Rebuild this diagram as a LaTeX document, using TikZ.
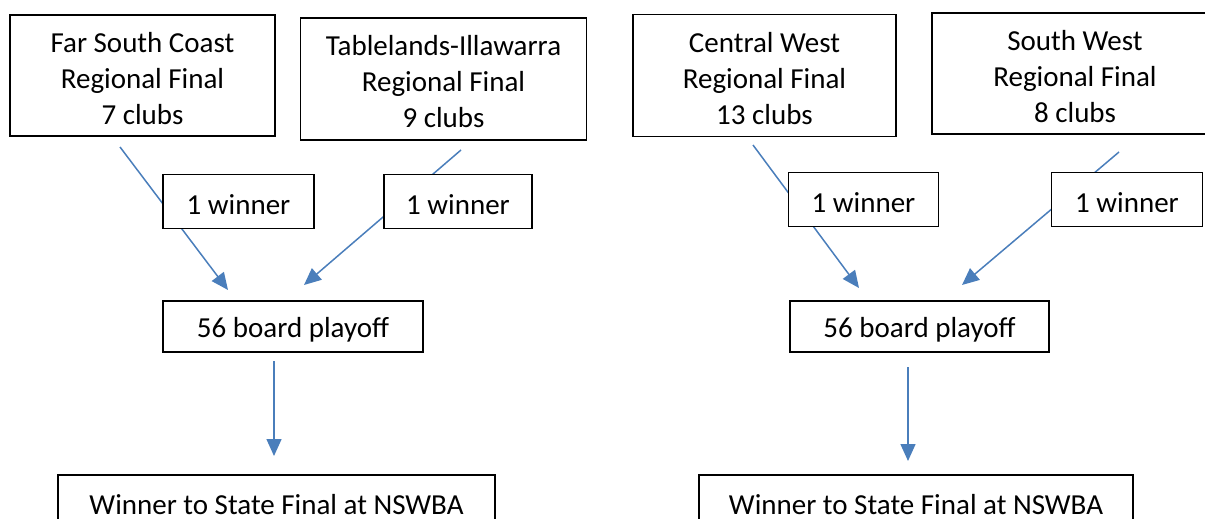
\documentclass[tikz,border=0pt]{standalone}
\usepackage{fontspec}
\setmainfont{Carlito}
\usetikzlibrary{arrows.meta}
\definecolor{arrowblue}{RGB}{74,126,187}
\begin{document}
\begin{tikzpicture}[x=1pt,y=-1pt,
  box/.style={draw=black,line width=1.2pt,fill=white,inner sep=0pt},
  boxtext/.style={inner sep=0pt,align=center,yshift=-3pt,
    font=\fontsize{29}{36}\selectfont},
  conn/.style={draw=arrowblue,line width=1.5pt,-{Triangle[length=17pt,width=15pt]}}]
\useasboundingbox (0,0) rectangle (1205,519);
\clip (0,0) rectangle (1205,519);
% connector end points
\coordinate (s1) at (120,147);  \coordinate (t1) at (228,290);
\coordinate (s2) at (461,150);  \coordinate (t2) at (304,285);
\coordinate (s3) at (753,145);  \coordinate (t3) at (859,288);
\coordinate (s4) at (1119,152); \coordinate (t4) at (962,285);
\coordinate (s5) at (274,361);  \coordinate (t5) at (274,456);
\coordinate (s6) at (908,367);  \coordinate (t6) at (908,461);
\draw[conn] (s1) -- (t1);
\draw[conn] (s2) -- (t2);
\draw[conn] (s3) -- (t3);
\draw[conn] (s4) -- (t4);
\draw[conn] (s5) -- (t5);
\draw[conn] (s6) -- (t6);
% boxes
\node[box,minimum width=265pt,minimum height=121pt,label={[boxtext]center:Far South Coast\\Regional Final\\7 clubs}] (fsc) at (142.5,75.5) {};
\node[box,minimum width=286pt,minimum height=122pt,label={[boxtext]center:Tablelands-Illawarra\\Regional Final\\9 clubs}] (ti) at (443.5,79) {};
\node[box,minimum width=263pt,minimum height=122pt,label={[boxtext]center:Central West\\Regional Final\\13 clubs}] (cw) at (764.5,75.5) {};
\node[box,minimum width=286pt,minimum height=121pt,label={[boxtext]center:South West\\Regional Final\\8 clubs}] (sw) at (1075,73.5) {};
\node[box,minimum width=151pt,minimum height=54pt,label={[boxtext]center:1 winner}] (w1) at (238.5,201.5) {};
\node[box,minimum width=148pt,minimum height=54pt,label={[boxtext]center:1 winner}] (w2) at (458,201.5) {};
\node[box,minimum width=150pt,minimum height=54pt,label={[boxtext]center:1 winner}] (w3) at (863.5,199.5) {};
\node[box,minimum width=151pt,minimum height=54pt,label={[boxtext]center:1 winner}] (w4) at (1127,199.5) {};
\node[box,minimum width=260pt,minimum height=51pt,label={[boxtext]center:56 board playoff}] (p1) at (293,326.5) {};
\node[box,minimum width=259pt,minimum height=51pt,label={[boxtext]center:56 board playoff}] (p2) at (919.5,326.5) {};
\node[box,minimum width=437pt,minimum height=60pt,label={[boxtext,yshift=3pt]center:Winner to State Final at NSWBA}] (f1) at (276.5,505) {};
\node[box,minimum width=434pt,minimum height=60pt,label={[boxtext,yshift=3pt]center:Winner to State Final at NSWBA}] (f2) at (916,505) {};
\end{tikzpicture}
\end{document}
